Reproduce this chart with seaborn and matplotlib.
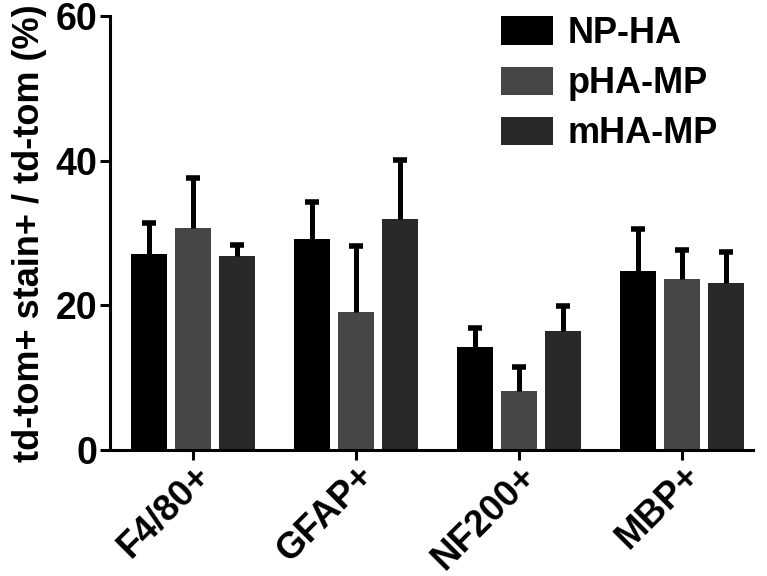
import pandas as pd
import matplotlib.pyplot as plt
import seaborn as sns

# === DATOS ===
categorias = ["F4/80+", "GFAP+", "NF200+", "MBP+"]
grupos = ["NP-HA", "pHA-MP", "mHA-MP"]
media_np = [27.1, 29.2, 14.2, 24.7]
media_pha = [30.7, 19.1, 8.2, 23.7]
media_mha = [26.8, 31.9, 16.5, 23.1]
err_np = [4.3, 5.1, 2.6, 5.9]
err_pha = [6.9, 9.1, 3.3, 4.0]
err_mha = [1.5, 8.2, 3.4, 4.3]
colores = ["#000000", "#464646", "#292929"]

df = pd.DataFrame({
    "Tinción": categorias * 3,
    "Grupo": [g for g in grupos for _ in categorias],
    "Valor": media_np + media_pha + media_mha,
})
errores = [err_np, err_pha, err_mha]

# === ESTILO ===
sns.set_style("ticks")
plt.rcParams["font.family"] = ["Liberation Sans", "DejaVu Sans"]
plt.rcParams["font.weight"] = "bold"
for k in ["text.color", "axes.labelcolor", "xtick.color", "ytick.color", "axes.edgecolor"]:
    plt.rcParams[k] = "black"

fig = plt.figure(figsize=(7.67, 5.76), dpi=100)
ax = fig.add_axes([110 / 767, 1 - 450 / 576, (753 - 110) / 767, (450 - 16) / 576])

sns.barplot(
    data=df, x="Tinción", y="Valor", hue="Grupo",
    order=categorias, hue_order=grupos,
    palette=colores, width=0.81, gap=0.2,
    errorbar=None, saturation=1, linewidth=0, ax=ax,
)

# === BARRAS DE ERROR (solo hacia arriba) ===
for cont, err in zip(ax.containers, errores):
    xs = [b.get_x() + b.get_width() / 2 for b in cont]
    ys = [b.get_height() for b in cont]
    eb = ax.errorbar(xs, ys, yerr=[[0] * len(err), err], fmt="none",
                     ecolor="black", elinewidth=3.6, capsize=5, capthick=4, zorder=1)
    # quitar la tapa inferior (queda escondida en la barra)
    for cap in eb[1]:
        if list(cap.get_ydata()) == ys:
            cap.set_visible(False)

# === EJES ===
ax.set_ylim(0, 60)
ax.set_yticks([0, 20, 40, 60])
ax.set_xlim(-0.509, 3.436)
ax.set_xlabel("")
ax.set_ylabel("td-tom+ stain+ / td-tom (%)", fontsize=26, fontweight="bold", labelpad=6)
ax.tick_params(axis="both", width=2.2, length=7, labelsize=27, color="black", labelcolor="black")
ax.tick_params(axis="y", pad=2)
ax.tick_params(axis="x", pad=-1)
for lbl in ax.get_yticklabels():
    lbl.set_fontweight("bold")
for lbl in ax.get_xticklabels():
    lbl.set_fontweight("bold")
    lbl.set_fontsize(26.5)
    lbl.set_rotation(45)
    lbl.set_ha("right")
    lbl.set_rotation_mode("anchor")
for s in ["left", "bottom"]:
    ax.spines[s].set_linewidth(2.2)
    ax.spines[s].set_color("black")
sns.despine(ax=ax)

# === LEYENDA ===
ax.legend(
    loc="upper left", bbox_to_anchor=(501 / 767, 1 - 16 / 576),
    bbox_transform=fig.transFigure, frameon=False,
    prop={"size": 26, "weight": "bold"},
    borderpad=0, borderaxespad=0, handlelength=1.45, handleheight=0.82,
    handletextpad=0.4, labelspacing=0.42,
)

fig.savefig("out.png", dpi=100)
